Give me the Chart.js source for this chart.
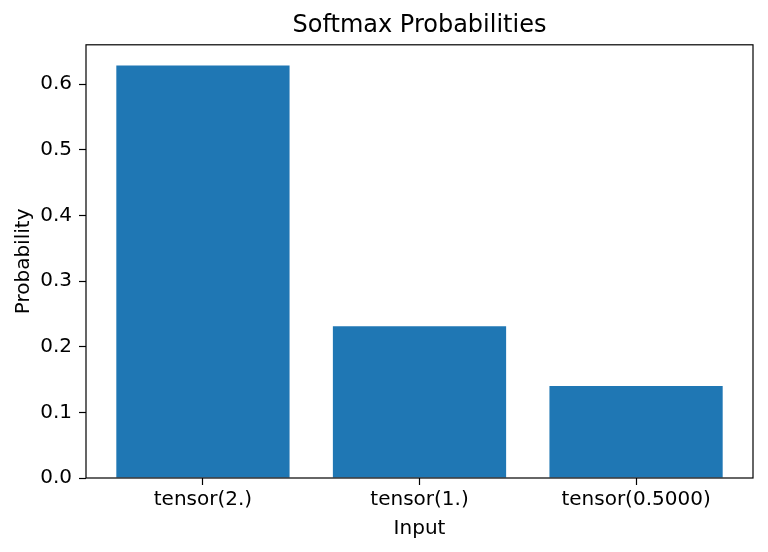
<!DOCTYPE html>
<html>
<head>
<meta charset="utf-8">
<script src="https://cdn.jsdelivr.net/npm/chart.js@4"></script>
<style>
  html, body { margin: 0; padding: 0; background: #fff; }
  #wrap { width: 768px; height: 552px; }
</style>
</head>
<body>
<div id="wrap"><canvas id="softmaxChart" width="768" height="552"></canvas></div>
<script>
// Softmax probabilities of the input tensors
const categories = ['tensor(2.)', 'tensor(1.)', 'tensor(0.5000)'];
const probabilities = [0.6285, 0.2312, 0.1402];
const yTicks = [0.0, 0.1, 0.2, 0.3, 0.4, 0.5, 0.6];

Chart.defaults.font.family = '"DejaVu Sans", sans-serif';
Chart.defaults.color = '#000';

// draws the matplotlib-style box around the plot area
const frameBox = {
    id: 'frameBox',
    afterDraw(chart) {
        const { ctx, chartArea: a } = chart;
        ctx.save();
        ctx.strokeStyle = '#000';
        ctx.lineWidth = 1.2;
        ctx.strokeRect(a.left, a.top, a.right - a.left, a.bottom - a.top);
        ctx.restore();
    }
};

const ctx = document.getElementById('softmaxChart');

new Chart(ctx, {
    type: 'bar',
    data: {
        datasets: [{
            label: 'Probability',
            data: probabilities.map((p, i) => ({ x: i, y: p })),
            backgroundColor: '#1f77b4',
            borderWidth: 0,
            barPercentage: 0.8,
            categoryPercentage: 1.0
        }]
    },
    options: {
        responsive: false,
        animation: false,
        layout: { padding: { left: 0, right: 15, top: 0, bottom: 0 } },
        scales: {
            x: {
                type: 'linear',
                min: -0.54,
                max: 2.54,
                offset: false,
                afterBuildTicks: (scale) => { scale.ticks = categories.map((c, i) => ({ value: i })); },
                afterFit: (scale) => { scale.height = 74; },
                grid: { display: true, offset: false, drawOnChartArea: false, tickLength: 7, tickWidth: 1.2, color: '#000' },
                border: { display: false },
                ticks: {
                    autoSkip: false,
                    maxRotation: 0,
                    padding: 3,
                    font: { size: 20 },
                    callback: (v) => categories[v]
                },
                title: { display: true, text: 'Input', font: { size: 20 }, padding: { top: 0, bottom: 11 } }
            },
            y: {
                min: 0,
                max: 0.66,
                afterBuildTicks: (scale) => { scale.ticks = yTicks.map(v => ({ value: v })); },
                afterFit: (scale) => { scale.width = 86; },
                grid: { display: true, drawOnChartArea: false, tickLength: 7, tickWidth: 1.2, color: '#000' },
                border: { display: false },
                ticks: {
                    padding: 7,
                    font: { size: 20 },
                    callback: (v) => v.toFixed(1)
                },
                title: { display: true, text: 'Probability', font: { size: 20 }, padding: { top: 12, bottom: 0 } }
            }
        },
        plugins: {
            legend: { display: false },
            tooltip: { enabled: false },
            title: {
                display: true,
                fullSize: false,
                text: 'Softmax Probabilities',
                color: '#000',
                font: { size: 24, weight: 'normal' },
                padding: { top: 11, bottom: 5 }
            }
        }
    },
    plugins: [frameBox]
});
</script>
</body>
</html>
